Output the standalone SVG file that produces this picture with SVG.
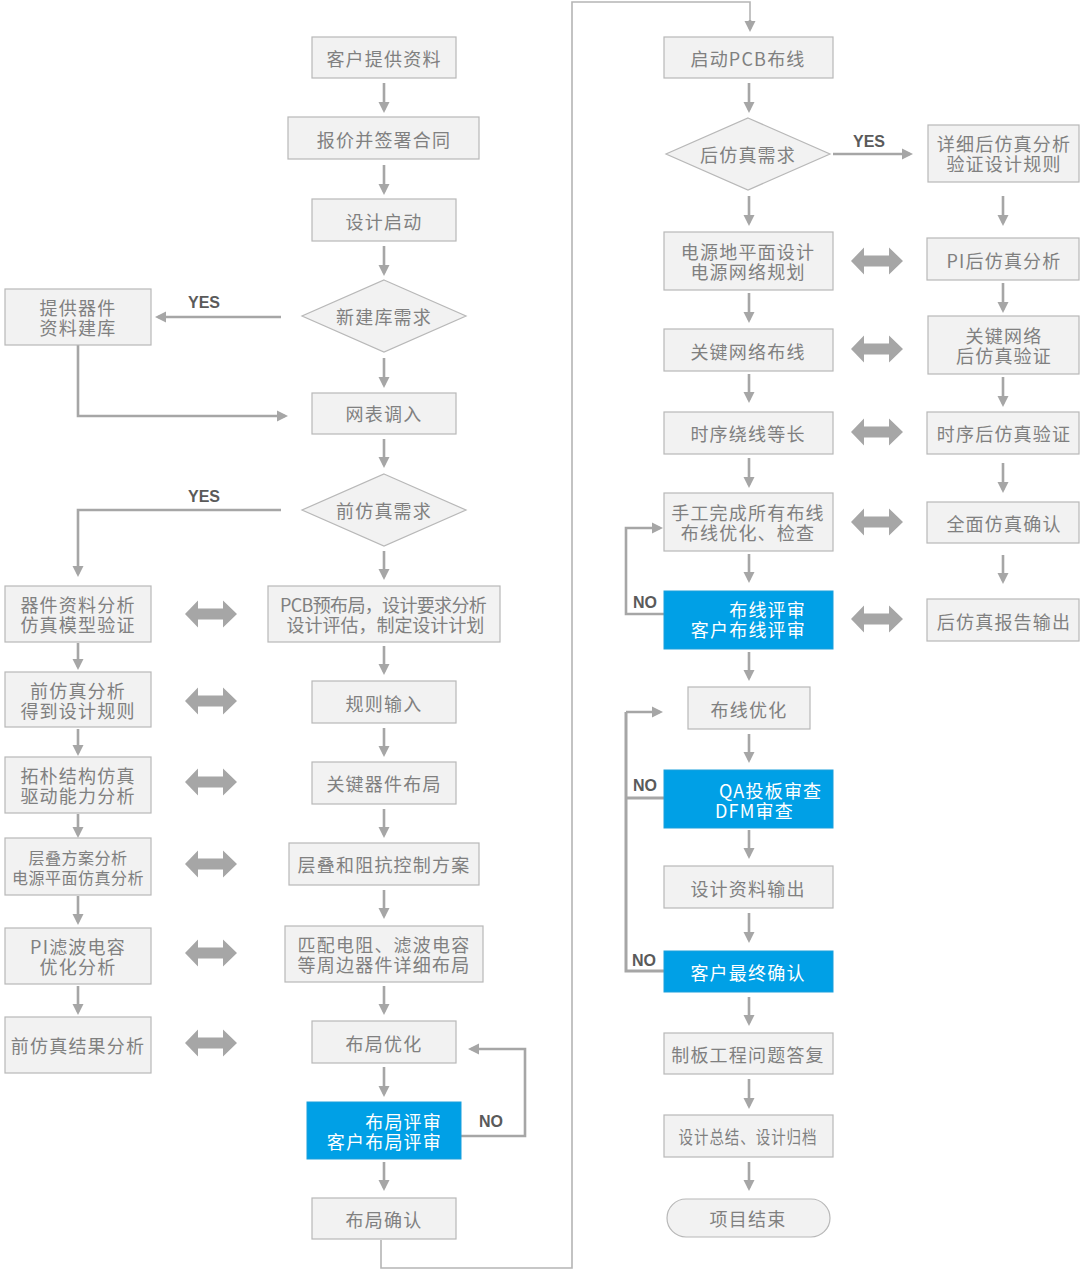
<svg xmlns="http://www.w3.org/2000/svg" xmlns:xlink="http://www.w3.org/1999/xlink" width="1084" height="1274" viewBox="0 0 1084 1274">
<defs>
<style>
.b{fill:#f2f2f2;stroke:#b8b8b8;stroke-width:1.2}
.bl{fill:#00a0e6;stroke:#1b9fdc;stroke-width:1}
.t{font-family:"Noto Sans CJK SC","Noto Sans",sans-serif;font-size:18px;fill:#808080;text-anchor:middle;dominant-baseline:central;letter-spacing:1.2px}
.w{fill:#ffffff}
.s{font-size:16px;letter-spacing:0.5px}
.lab{font-family:"Liberation Sans","DejaVu Sans",sans-serif;font-size:16px;font-weight:bold;fill:#5a5a5a;text-anchor:middle;dominant-baseline:central}
.c{fill:none;stroke:#a6a6a6;stroke-width:2.6;marker-end:url(#ah)}
.cl{fill:none;stroke:#a6a6a6;stroke-width:3}
.thin{fill:none;stroke:#b5b5b5;stroke-width:1.6}
.d{fill:#a6a6a6}
</style>
<marker id="ah" markerUnits="userSpaceOnUse" markerWidth="12" markerHeight="12" refX="8" refY="6" orient="auto">
<path d="M0,0.5 L11,6 L0,11.5 Z" fill="#a6a6a6"/>
</marker>
<path id="dbl" d="M-26,0 L-13,-13.5 L-13,-5.5 L12,-5.5 L12,-13.5 L26,0 L12,13.5 L12,5.5 L-13,5.5 L-13,13.5 Z" class="d"/>
</defs>
<rect width="1084" height="1274" fill="#ffffff"/>

<g id="connectors">
<line class="c" x1="384" y1="83" x2="384" y2="110"/>
<line class="c" x1="384" y1="165" x2="384" y2="192"/>
<line class="c" x1="384" y1="246" x2="384" y2="273"/>
<line class="c" x1="384" y1="358" x2="384" y2="385"/>
<line class="c" x1="384" y1="439" x2="384" y2="465"/>
<line class="c" x1="384" y1="551" x2="384" y2="577"/>
<line class="c" x1="384" y1="646" x2="384" y2="672"/>
<line class="c" x1="384" y1="728" x2="384" y2="754"/>
<line class="c" x1="384" y1="809" x2="384" y2="835"/>
<line class="c" x1="384" y1="890" x2="384" y2="916"/>
<line class="c" x1="384" y1="986" x2="384" y2="1012"/>
<line class="c" x1="384" y1="1067" x2="384" y2="1094"/>
<line class="c" x1="384" y1="1162" x2="384" y2="1188"/>
<polyline class="c" points="281,317 158,317"/>
<polyline class="c" points="78,345 78,416 285,416"/>
<polyline class="c" points="281,510 78,510 78,574"/>
<line class="c" x1="78" y1="643" x2="78" y2="667"/>
<line class="c" x1="78" y1="729" x2="78" y2="753"/>
<line class="c" x1="78" y1="814" x2="78" y2="835"/>
<line class="c" x1="78" y1="896" x2="78" y2="922"/>
<line class="c" x1="78" y1="986" x2="78" y2="1012"/>
<polyline class="c" points="461,1136 525,1136 525,1049 471,1049"/>
<polyline class="thin" points="381,1240 381,1268 572,1268 572,2 750,2 750,22"/>
<line class="c" x1="750" y1="20" x2="750" y2="29"/>
<line class="c" x1="749" y1="83" x2="749" y2="110"/>
<line class="c" x1="749" y1="196" x2="749" y2="223"/>
<line class="c" x1="749" y1="293" x2="749" y2="320"/>
<line class="c" x1="749" y1="374" x2="749" y2="400"/>
<line class="c" x1="749" y1="458" x2="749" y2="485"/>
<line class="c" x1="749" y1="554" x2="749" y2="580"/>
<line class="c" x1="749" y1="652" x2="749" y2="678"/>
<line class="c" x1="749" y1="734" x2="749" y2="760"/>
<line class="c" x1="749" y1="830" x2="749" y2="856"/>
<line class="c" x1="749" y1="913" x2="749" y2="940"/>
<line class="c" x1="749" y1="997" x2="749" y2="1023"/>
<line class="c" x1="749" y1="1079" x2="749" y2="1106"/>
<line class="c" x1="749" y1="1162" x2="749" y2="1188"/>
<line class="c" x1="833" y1="154" x2="910" y2="154"/>
<line class="c" x1="1003" y1="196" x2="1003" y2="223"/>
<line class="c" x1="1003" y1="283" x2="1003" y2="310"/>
<line class="c" x1="1003" y1="377" x2="1003" y2="404"/>
<line class="c" x1="1003" y1="463" x2="1003" y2="490"/>
<line class="c" x1="1003" y1="555" x2="1003" y2="581"/>
<polyline class="c" points="664,614 626,614 626,528 660,528"/>
<polyline class="cl" points="664,971 626,971 626,712"/>
<polyline class="cl" points="664,798 626,798"/>
<polyline class="c" points="626,712 660,712"/>
<use xlink:href="#dbl" x="211" y="614"/>
<use xlink:href="#dbl" x="211" y="701"/>
<use xlink:href="#dbl" x="211" y="782"/>
<use xlink:href="#dbl" x="211" y="864"/>
<use xlink:href="#dbl" x="211" y="953"/>
<use xlink:href="#dbl" x="211" y="1043"/>
<use xlink:href="#dbl" x="877" y="261"/>
<use xlink:href="#dbl" x="877" y="349"/>
<use xlink:href="#dbl" x="877" y="432"/>
<use xlink:href="#dbl" x="877" y="522"/>
<use xlink:href="#dbl" x="877" y="619"/>
<text class="lab" x="204" y="302">YES</text>
<text class="lab" x="204" y="496">YES</text>
<text class="lab" x="869" y="141">YES</text>
<text class="lab" x="491" y="1121">NO</text>
<text class="lab" x="645" y="602">NO</text>
<text class="lab" x="645" y="785">NO</text>
<text class="lab" x="644" y="960">NO</text>
</g>

<g id="n1"><rect class="b" x="312" y="37" width="144" height="41"/><text class="t" x="384" y="58">客户提供资料</text></g>
<g id="n2"><rect class="b" x="288" y="117" width="191" height="42"/><text class="t" x="384" y="139">报价并签署合同</text></g>
<g id="n3"><rect class="b" x="312" y="199" width="144" height="42"/><text class="t" x="384" y="221">设计启动</text></g>
<g id="n4"><polygon class="b" points="384,280 466,316 384,352 302,316"/><text class="t" x="384" y="316">新建库需求</text></g>
<g id="n5"><rect class="b" x="312" y="393" width="144" height="41"/><text class="t" x="384" y="413">网表调入</text></g>
<g id="n6"><polygon class="b" points="384,474 466,510 384,546 302,510"/><text class="t" x="384" y="510">前仿真需求</text></g>
<g id="n7"><rect class="b" x="268" y="586" width="232" height="56"/><text class="t" x="384" y="604" textLength="208" lengthAdjust="spacing">PCB预布局，设计要求分析</text><text class="t" x="386" y="624" textLength="199" lengthAdjust="spacing">设计评估，制定设计计划</text></g>
<g id="n8"><rect class="b" x="312" y="681" width="144" height="42"/><text class="t" x="384" y="703">规则输入</text></g>
<g id="n9"><rect class="b" x="312" y="762" width="144" height="42"/><text class="t" x="384" y="783">关键器件布局</text></g>
<g id="n10"><rect class="b" x="289" y="843" width="190" height="42"/><text class="t" x="384" y="864">层叠和阻抗控制方案</text></g>
<g id="n11"><rect class="b" x="285" y="926" width="198" height="56"/><text class="t" x="384" y="944">匹配电阻、滤波电容</text><text class="t" x="384" y="964">等周边器件详细布局</text></g>
<g id="n12"><rect class="b" x="312" y="1021" width="144" height="42"/><text class="t" x="384" y="1043">布局优化</text></g>
<g id="n13"><rect class="bl" x="307" y="1102" width="154" height="57"/><text class="t w" x="442" y="1121" style="text-anchor:end">布局评审</text><text class="t w" x="442" y="1141" style="text-anchor:end">客户布局评审</text></g>
<g id="n14"><rect class="b" x="312" y="1198" width="144" height="41"/><text class="t" x="384" y="1219">布局确认</text></g>

<g id="L0"><rect class="b" x="5" y="289" width="146" height="56"/><text class="t" x="78" y="307">提供器件</text><text class="t" x="78" y="327">资料建库</text></g>
<g id="L1"><rect class="b" x="5" y="586" width="146" height="56"/><text class="t" x="78" y="604">器件资料分析</text><text class="t" x="78" y="624">仿真模型验证</text></g>
<g id="L2"><rect class="b" x="5" y="672" width="146" height="55"/><text class="t" x="78" y="690">前仿真分析</text><text class="t" x="78" y="710">得到设计规则</text></g>
<g id="L3"><rect class="b" x="5" y="757" width="146" height="56"/><text class="t" x="78" y="775">拓朴结构仿真</text><text class="t" x="78" y="795">驱动能力分析</text></g>
<g id="L4"><rect class="b" x="5" y="838" width="146" height="57"/><text class="t s" x="78" y="857">层叠方案分析</text><text class="t s" x="78" y="877">电源平面仿真分析</text></g>
<g id="L5"><rect class="b" x="5" y="928" width="146" height="56"/><text class="t" x="78" y="946">PI滤波电容</text><text class="t" x="78" y="966">优化分析</text></g>
<g id="L6"><rect class="b" x="5" y="1017" width="146" height="56"/><text class="t" x="78" y="1045">前仿真结果分析</text></g>

<g id="r1"><rect class="b" x="664" y="37" width="169" height="41"/><text class="t" x="748" y="58">启动PCB布线</text></g>
<g id="r2"><polygon class="b" points="748,118 830,154 748,190 666,154"/><text class="t" x="748" y="154">后仿真需求</text></g>
<g id="r3"><rect class="b" x="664" y="232" width="169" height="58"/><text class="t" x="748" y="251">电源地平面设计</text><text class="t" x="748" y="271">电源网络规划</text></g>
<g id="r4"><rect class="b" x="664" y="329" width="169" height="42"/><text class="t" x="748" y="351">关键网络布线</text></g>
<g id="r5"><rect class="b" x="664" y="412" width="169" height="42"/><text class="t" x="748" y="433">时序绕线等长</text></g>
<g id="r6"><rect class="b" x="664" y="493" width="169" height="58"/><text class="t" x="748" y="512">手工完成所有布线</text><text class="t" x="748" y="532">布线优化、检查</text></g>
<g id="r7"><rect class="bl" x="664" y="591" width="169" height="58"/><text class="t w" x="806" y="609" style="text-anchor:end">布线评审</text><text class="t w" x="806" y="629" style="text-anchor:end">客户布线评审</text></g>
<g id="r8"><rect class="b" x="688" y="687" width="122" height="42"/><text class="t" x="749" y="709">布线优化</text></g>
<g id="r9"><rect class="bl" x="664" y="770" width="169" height="58"/><text class="t w" x="719" y="790" style="text-anchor:start">QA投板审查</text><text class="t w" x="715" y="810" style="text-anchor:start">DFM审查</text></g>
<g id="r10"><rect class="b" x="664" y="866" width="169" height="42"/><text class="t" x="748" y="888">设计资料输出</text></g>
<g id="r11"><rect class="bl" x="664" y="951" width="169" height="41"/><text class="t w" x="748" y="972">客户最终确认</text></g>
<g id="r12"><rect class="b" x="664" y="1033" width="169" height="41"/><text class="t" x="748" y="1054">制板工程问题答复</text></g>
<g id="r13"><rect class="b" x="664" y="1115" width="169" height="42"/><text class="t" x="748" y="1136" textLength="139" lengthAdjust="spacingAndGlyphs">设计总结、设计归档</text></g>
<g id="r14"><rect class="b" x="667" y="1199" width="163" height="38" rx="19" ry="19"/><text class="t" x="748" y="1218">项目结束</text></g>

<g id="p1"><rect class="b" x="928" y="125" width="151" height="57"/><text class="t" x="1004" y="143">详细后仿真分析</text><text class="t" x="1004" y="163">验证设计规则</text></g>
<g id="p2"><rect class="b" x="927" y="238" width="152" height="42"/><text class="t" x="1004" y="260">PI后仿真分析</text></g>
<g id="p3"><rect class="b" x="928" y="316" width="151" height="58"/><text class="t" x="1004" y="335">关键网络</text><text class="t" x="1004" y="355">后仿真验证</text></g>
<g id="p4"><rect class="b" x="927" y="412" width="152" height="42"/><text class="t" x="1004" y="433">时序后仿真验证</text></g>
<g id="p5"><rect class="b" x="927" y="502" width="152" height="41"/><text class="t" x="1004" y="523">全面仿真确认</text></g>
<g id="p6"><rect class="b" x="927" y="599" width="152" height="42"/><text class="t" x="1004" y="621">后仿真报告输出</text></g>
</svg>
